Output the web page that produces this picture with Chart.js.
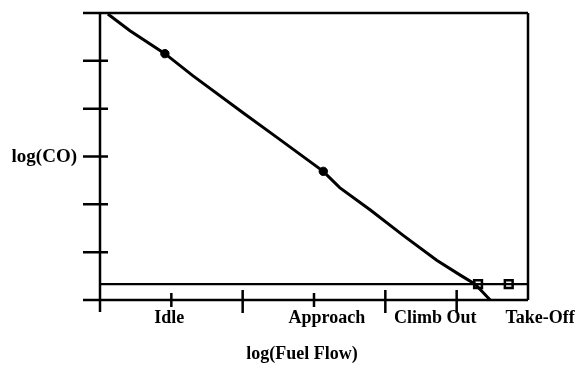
<!DOCTYPE html>
<html>
<head>
<meta charset="utf-8">
<script src="https://cdn.jsdelivr.net/npm/chart.js@4.4.0/dist/chart.umd.min.js"></script>
<style>
  html, body { margin: 0; padding: 0; background: #fff; }
  #wrap { width: 579px; height: 365px; }
</style>
</head>
<body>
<div id="wrap"><canvas id="c" width="579" height="365"></canvas></div>
<script>
// emission curve, log(fuel flow) vs log(CO), axis units = tick steps
const curveX = [0.11, 0.42, 0.91, 1.30, 2.00, 2.48, 3.13, 3.36, 3.79, 4.25, 4.72, 5.05, 5.26, 5.47]
const curveY = [5.98, 5.63, 5.15, 4.69, 3.92, 3.40, 2.69, 2.35, 1.88, 1.35, 0.83, 0.52, 0.33, 0.00]

// measured operating points
const dotX = [0.91, 3.13]
const dotY = [5.15, 2.69]

// floor level and the open squares sitting on it
const floorLevel = 0.33
const floorX = [0, 6]
const squareX = [5.30, 5.73]

// operating modes along the x axis
const stageNames = ['Idle', 'Approach', 'Climb Out', 'Take-Off']
const stagePos = [0.97, 3.18, 4.70, 6.17]

const xTicks = [1, 2, 3, 4, 5]
const yTicks = [1, 2, 3, 4, 5]
const yLabel = 'log(CO)'
const yLabelAt = 3
const xTitle = 'log(Fuel Flow)'

const FONT = 'bold 18px "Liberation Serif", "Times New Roman", serif'

const framePlugin = {
  id: 'frame',
  beforeDatasetsDraw(chart) {
    const ctx = chart.ctx
    const a = chart.chartArea
    const xs = chart.scales.x, ys = chart.scales.y
    ctx.save()
    ctx.strokeStyle = '#000'
    ctx.lineCap = 'butt'
    ctx.lineWidth = 2.5
    ctx.beginPath()
    // top line, runs a bit past the left axis
    ctx.moveTo(a.left - 17, a.top); ctx.lineTo(a.right, a.top)
    // right edge
    ctx.moveTo(a.right, a.top); ctx.lineTo(a.right, a.bottom)
    // bottom axis
    ctx.moveTo(a.left - 17, a.bottom); ctx.lineTo(a.right, a.bottom)
    // left axis, poking below
    ctx.moveTo(a.left, a.top); ctx.lineTo(a.left, a.bottom + 12)
    ctx.stroke()

    ctx.lineWidth = 2.5
    ctx.beginPath()
    yTicks.forEach(v => {
      const py = ys.getPixelForValue(v)
      ctx.moveTo(a.left - 17, py); ctx.lineTo(a.left + 8, py)
    })
    xTicks.forEach(v => {
      const px = xs.getPixelForValue(v)
      const long = (v % 2 === 0) || v === 5
      ctx.moveTo(px, a.bottom - (long ? 10 : 7)); ctx.lineTo(px, a.bottom + (long ? 13 : 7))
    })
    ctx.stroke()

    ctx.fillStyle = '#000'
    ctx.font = FONT
    ctx.textBaseline = 'alphabetic'
    ctx.textAlign = 'center'
    stageNames.forEach((s, i) => {
      ctx.fillText(s, xs.getPixelForValue(stagePos[i]), a.bottom + 23)
    })
    ctx.fillText(xTitle, 302, a.bottom + 59)
    ctx.textAlign = 'right'
    ctx.textBaseline = 'middle'
    ctx.font = 'bold 19px "Liberation Serif", "Times New Roman", serif'
    ctx.fillText(yLabel, a.left - 23, ys.getPixelForValue(yLabelAt) + 1)
    ctx.restore()
  }
}

new Chart(document.getElementById('c'), {
  type: 'scatter',
  data: {
    datasets: [
      {
        label: 'floor',
        data: floorX.map(x => ({ x: x, y: floorLevel })),
        showLine: true,
        borderColor: '#000',
        borderWidth: 2.2,
        pointRadius: 0,
        clip: false
      },
      {
        label: 'CO curve',
        data: curveX.map((x, i) => ({ x: x, y: curveY[i] })),
        showLine: true,
        borderColor: '#000',
        borderWidth: 3,
        tension: 0,
        pointRadius: 0,
        clip: false
      },
      {
        label: 'measured',
        data: dotX.map((x, i) => ({ x: x, y: dotY[i] })),
        pointRadius: 4.2,
        pointBackgroundColor: '#000',
        pointBorderColor: '#000',
        clip: false
      },
      {
        label: 'squares',
        data: squareX.map(x => ({ x: x, y: floorLevel })),
        pointStyle: 'rect',
        pointRadius: 5.5,
        pointBackgroundColor: '#fff',
        pointBorderColor: '#000',
        pointBorderWidth: 2.5,
        clip: false
      }
    ]
  },
  options: {
    responsive: false,
    animation: false,
    events: [],
    layout: { padding: { left: 100, right: 51, top: 13, bottom: 65 } },
    plugins: { legend: { display: false }, tooltip: { enabled: false } },
    scales: {
      x: { type: 'linear', min: 0, max: 6, display: false },
      y: { type: 'linear', min: 0, max: 6, display: false }
    }
  },
  plugins: [framePlugin]
})
</script>
</body>
</html>
